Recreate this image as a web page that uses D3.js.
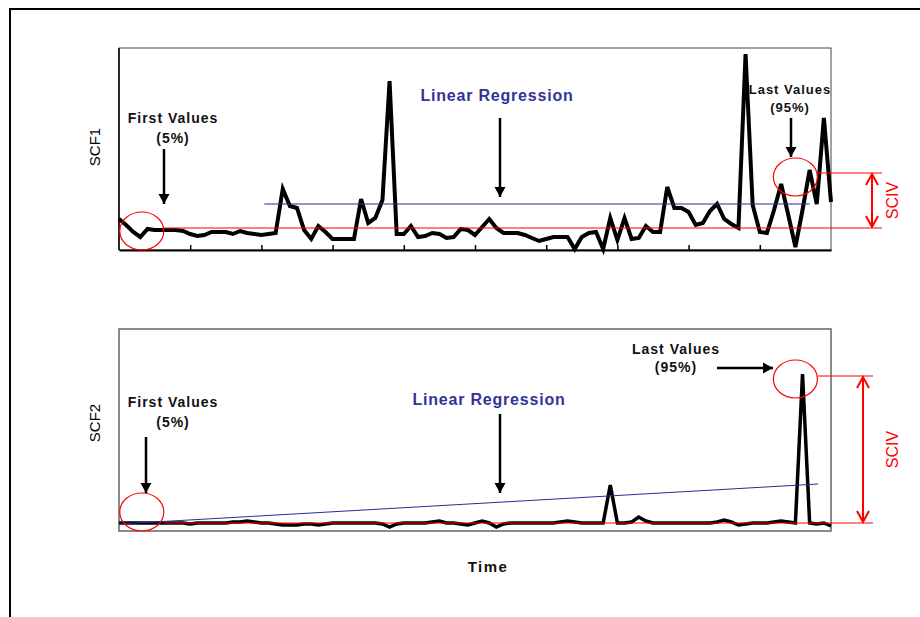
<!DOCTYPE html>
<html>
<head>
<meta charset="utf-8">
<script src="https://cdn.jsdelivr.net/npm/d3@7"></script>
<style>
  body { margin: 0; background: #fff; }
  text { font-family: Arial, "Liberation Sans", sans-serif; }
</style>
</head>
<body>
<svg id="chart" width="920" height="617"></svg>
<script>
// time steps 0..100, one value per step
var scf1Values = [
    31, 25, 18, 13, 21, 20, 20, 20, 20, 19,
    16, 14, 15, 18, 18, 18, 16, 19, 17, 16,
    15, 16, 17, 61, 44, 42, 20, 11, 24, 18,
    11, 11, 11, 11, 51, 27, 32, 50, 169, 16,
    16, 24, 13, 14, 17, 16, 12, 13, 21, 20,
    15, 23, 31, 22, 17, 17, 17, 15, 12, 9,
    11, 13, 13, 13, 1, 13, 17, 18, 1, 32,
    10, 32, 11, 12, 24, 18, 18, 63, 42, 42,
    38, 25, 27, 39, 46, 31, 26, 22, 196, 45,
    18, 17, 40, 66, 35, 3, 40, 80, 46, 132,
    48
];
var scf2Values = [
    8, 8, 8, 8, 8, 8, 8, 8, 8, 8,
    7, 8, 8, 8, 8, 8, 9, 9, 10, 9,
    8, 8, 7, 6, 6, 6, 7, 7, 6, 7,
    8, 8, 8, 8, 8, 8, 8, 7, 4, 7,
    8, 8, 8, 8, 9, 10, 8, 8, 7, 6,
    8, 10, 8, 4, 7, 8, 8, 8, 8, 8,
    8, 8, 9, 10, 9, 8, 8, 8, 8, 46,
    8, 8, 9, 14, 10, 8, 8, 8, 8, 8,
    8, 8, 8, 8, 9, 11, 9, 6, 7, 8,
    8, 8, 9, 10, 9, 8, 157, 8, 7, 8,
    5
];
// regression lines as [time, value] end points
var scf1Regression = [[20.4, 46], [97, 46]];
var scf2Regression = [[0, 7], [98.2, 47]];
// first values level and last values level (SCIV span)
var scf1Sciv = [22, 77];
var scf2Sciv = [8, 155];
var xTicks = [10, 20, 30, 40, 50, 60, 70, 80, 90];

var svg = d3.select("#chart");
var plotLeft = 119, plotRight = 831, plotH = 202;

var x = d3.scaleLinear()
    .domain([0, 100])
    .range([plotLeft, plotRight]);

var defs = svg.append("defs");
defs.append("marker")
    .attr("id", "headBlack")
    .attr("markerUnits", "userSpaceOnUse")
    .attr("markerWidth", 12)
    .attr("markerHeight", 12)
    .attr("refX", 10)
    .attr("refY", 6)
    .attr("orient", "auto")
    .append("path")
    .attr("d", "M0,0.5 L10,6 L0,11.5 Z")
    .attr("fill", "#000");
defs.append("marker")
    .attr("id", "headRed")
    .attr("markerUnits", "userSpaceOnUse")
    .attr("markerWidth", 14)
    .attr("markerHeight", 14)
    .attr("refX", 11)
    .attr("refY", 6)
    .attr("orient", "auto-start-reverse")
    .style("overflow", "visible")
    .append("path")
    .attr("d", "M0,0 L11,6 L0,12")
    .attr("fill", "none")
    .attr("stroke", "#ff0000")
    .attr("stroke-width", 2);

// outer frame
svg.append("path")
    .attr("d", "M10,617 V9 H920")
    .attr("fill", "none")
    .attr("stroke", "#000")
    .attr("stroke-width", 2);

function arrow(g, x1, y1, x2, y2) {
    g.append("line")
        .attr("x1", x1).attr("y1", y1)
        .attr("x2", x2).attr("y2", y2)
        .attr("stroke", "#000")
        .attr("stroke-width", 2.5)
        .attr("marker-end", "url(#headBlack)");
}

function label(g, lines, cx, y0, dy, size, color) {
    lines.forEach(function (t, i) {
        g.append("text")
            .attr("x", cx)
            .attr("y", y0 + i * dy)
            .attr("text-anchor", "middle")
            .attr("font-size", size)
            .attr("font-weight", "bold")
            .attr("letter-spacing", size > 15 ? 0.8 : 1)
            .attr("fill", color || "#111")
            .text(t);
    });
}

function drawPanel(cfg) {
    var y = d3.scaleLinear()
        .domain([0, 202])
        .range([cfg.top + plotH, cfg.top]);
    var g = svg.append("g");

    g.append("rect")
        .attr("x", plotLeft)
        .attr("y", cfg.top)
        .attr("width", plotRight - plotLeft)
        .attr("height", plotH)
        .attr("fill", "none")
        .attr("stroke", cfg.ticks ? "#444" : "#666")
        .attr("stroke-width", cfg.ticks ? 1 : 1.5);

    if (cfg.ticks) {
        g.append("line")
            .attr("x1", plotLeft).attr("x2", plotLeft)
            .attr("y1", cfg.top).attr("y2", cfg.top + plotH)
            .attr("stroke", "#000")
            .attr("stroke-width", 1.5);
        g.append("g")
            .attr("transform", "translate(0," + (cfg.top + plotH) + ")")
            .call(d3.axisBottom(x).tickValues(xTicks).tickSizeInner(-5).tickSizeOuter(0).tickFormat(""))
            .call(function (a) {
                a.select(".domain").attr("stroke", "#000").attr("stroke-width", 2);
                a.selectAll(".tick line").attr("stroke", "#000").attr("stroke-width", 1.5);
            });
    }

    g.append("path")
        .datum(cfg.values)
        .attr("fill", "none")
        .attr("stroke", "#000")
        .attr("stroke-width", cfg.lineWidth)
        .attr("d", d3.line()
            .x(function (d, i) { return x(i); })
            .y(function (d) { return y(d); }));

    // regression
    g.append("line")
        .attr("x1", x(cfg.regression[0][0])).attr("y1", y(cfg.regression[0][1]))
        .attr("x2", x(cfg.regression[1][0])).attr("y2", y(cfg.regression[1][1]))
        .attr("stroke", "#2b2b99")
        .attr("stroke-width", 1);

    // SCIV guides
    var lo = y(cfg.sciv[0]), hi = y(cfg.sciv[1]);
    g.append("line")
        .attr("x1", 164).attr("x2", cfg.guideEnd)
        .attr("y1", lo).attr("y2", lo)
        .attr("stroke", "#ff0000").attr("stroke-width", 1);
    g.append("line")
        .attr("x1", 818).attr("x2", cfg.guideEnd)
        .attr("y1", hi).attr("y2", hi)
        .attr("stroke", "#ff0000").attr("stroke-width", 1);
    g.append("line")
        .attr("x1", cfg.arrowX).attr("x2", cfg.arrowX)
        .attr("y1", hi + 1).attr("y2", lo - 1)
        .attr("stroke", "#ff0000")
        .attr("stroke-width", 2)
        .attr("marker-start", "url(#headRed)")
        .attr("marker-end", "url(#headRed)");
    g.append("text")
        .attr("transform", "translate(898," + ((hi + lo) / 2) + ") rotate(-90)")
        .attr("text-anchor", "middle")
        .attr("font-size", 16)
        .attr("fill", "#ff0000")
        .text("SCIV");

    // circles at first / last values
    cfg.circles.forEach(function (c) {
        g.append("ellipse")
            .attr("cx", x(c[0]))
            .attr("cy", y(c[1]))
            .attr("rx", 22)
            .attr("ry", 19)
            .attr("fill", "none")
            .attr("stroke", "#ff0000")
            .attr("stroke-width", 1.2);
    });

    g.append("text")
        .attr("transform", "translate(100," + (cfg.top + cfg.nameY) + ") rotate(-90)")
        .attr("text-anchor", "middle")
        .attr("font-size", 15)
        .attr("fill", "#000")
        .text(cfg.name);

    return g;
}

var top1 = drawPanel({
    name: "SCF1", top: 48, nameY: 99, values: scf1Values, lineWidth: 4,
    regression: scf1Regression, sciv: scf1Sciv, ticks: true,
    guideEnd: 882, arrowX: 872,
    circles: [[3.2, 19], [95, 73]]
});
label(top1, ["First Values", "(5%)"], 173, 123, 20, 14);
arrow(top1, 164, 149, 164, 204);
label(top1, ["Linear Regression"], 497, 101, 0, 16, "#333399");
arrow(top1, 500, 118, 500, 197);
label(top1, ["Last Values", "(95%)"], 790, 94, 18, 13);
arrow(top1, 791, 118, 791, 157);

var top2 = drawPanel({
    name: "SCF2", top: 329, nameY: 94, values: scf2Values, lineWidth: 3.5,
    regression: scf2Regression, sciv: scf2Sciv, ticks: false,
    guideEnd: 873, arrowX: 863,
    circles: [[3.2, 19], [95, 152]]
});
label(top2, ["First Values", "(5%)"], 173, 407, 20, 14);
arrow(top2, 146, 437, 146, 493);
label(top2, ["Linear Regression"], 489, 405, 0, 16, "#333399");
arrow(top2, 500, 414, 500, 493);
label(top2, ["Last Values", "(95%)"], 676, 354, 18, 14);
arrow(top2, 717, 368, 773, 368);

svg.append("text")
    .attr("x", 488)
    .attr("y", 572)
    .attr("text-anchor", "middle")
    .attr("font-size", 15)
    .attr("font-weight", "bold")
    .attr("letter-spacing", 1.5)
    .attr("fill", "#111")
    .text("Time");
</script>
</body>
</html>
